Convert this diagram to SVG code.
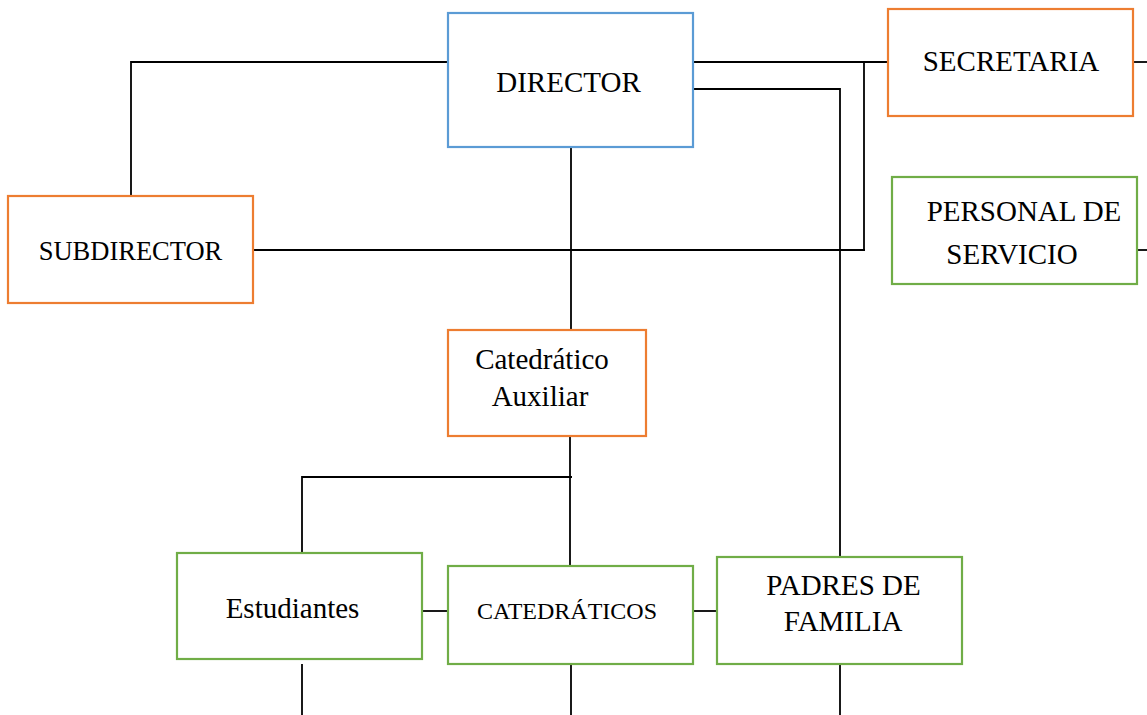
<svg xmlns="http://www.w3.org/2000/svg" width="1147" height="715" viewBox="0 0 1147 715">
<style>
.box{fill:#fff;stroke-width:2.2}
.blue{stroke:#5B9BD5}
.orange{stroke:#ED7D31}
.green{stroke:#70AD47}
.t{font-family:"Liberation Serif","Times New Roman",serif;font-size:29px;fill:#000;text-anchor:middle}
.ln{stroke:#000;stroke-width:1.8;fill:none}
</style>
<rect width="1147" height="715" fill="#fff"/>
<g id="connectors">
<polyline class="ln" points="448,62 131,62 131,196"/>
<line class="ln" x1="693" y1="62" x2="888" y2="62"/>
<line class="ln" x1="864" y1="62" x2="864" y2="250"/>
<polyline class="ln" points="693,89 840,89 840,557"/>
<line class="ln" x1="253" y1="250" x2="865" y2="250"/>
<line class="ln" x1="1133" y1="62" x2="1147" y2="62"/>
<line class="ln" x1="1137" y1="250" x2="1147" y2="250"/>
<line class="ln" x1="571" y1="143" x2="571" y2="330"/>
<line class="ln" x1="570" y1="436" x2="570" y2="566"/>
<polyline class="ln" points="572,477 302,477 302,553"/>
<line class="ln" x1="422" y1="611" x2="448" y2="611"/>
<line class="ln" x1="693" y1="611" x2="717" y2="611"/>
<line class="ln" x1="302" y1="664" x2="302" y2="715"/>
<line class="ln" x1="571" y1="664" x2="571" y2="715"/>
<line class="ln" x1="840" y1="664" x2="840" y2="715"/>
</g>
<g id="director">
<rect class="box blue" x="448" y="13" width="245" height="134"/>
<text class="t" x="568.5" y="92">DIRECTOR</text>
</g>
<g id="secretaria">
<rect class="box orange" x="888" y="9" width="245" height="107"/>
<text class="t" x="1011" y="71">SECRETARIA</text>
</g>
<g id="personal">
<rect class="box green" x="892" y="177" width="245" height="107"/>
<text class="t" x="1024" y="221">PERSONAL DE</text>
<text class="t" x="1012" y="264">SERVICIO</text>
</g>
<g id="subdirector">
<rect class="box orange" x="8" y="196" width="245" height="107"/>
<text class="t" x="130.5" y="260" style="font-size:26.5px">SUBDIRECTOR</text>
</g>
<g id="catedratico-auxiliar">
<rect class="box orange" x="448" y="330" width="198" height="106"/>
<text class="t" x="542" y="369">Catedrático</text>
<text class="t" x="540" y="406">Auxiliar</text>
</g>
<g id="estudiantes">
<rect class="box green" x="177" y="553" width="245" height="106"/>
<text class="t" x="292.5" y="618">Estudiantes</text>
</g>
<g id="catedraticos">
<rect class="box green" x="448" y="566" width="245" height="98"/>
<text class="t" x="567" y="619" style="font-size:24px">CATEDRÁTICOS</text>
</g>
<g id="padres">
<rect class="box green" x="717" y="557" width="245" height="107"/>
<text class="t" x="843.5" y="595">PADRES DE</text>
<text class="t" x="843" y="631">FAMILIA</text>
</g>
</svg>
